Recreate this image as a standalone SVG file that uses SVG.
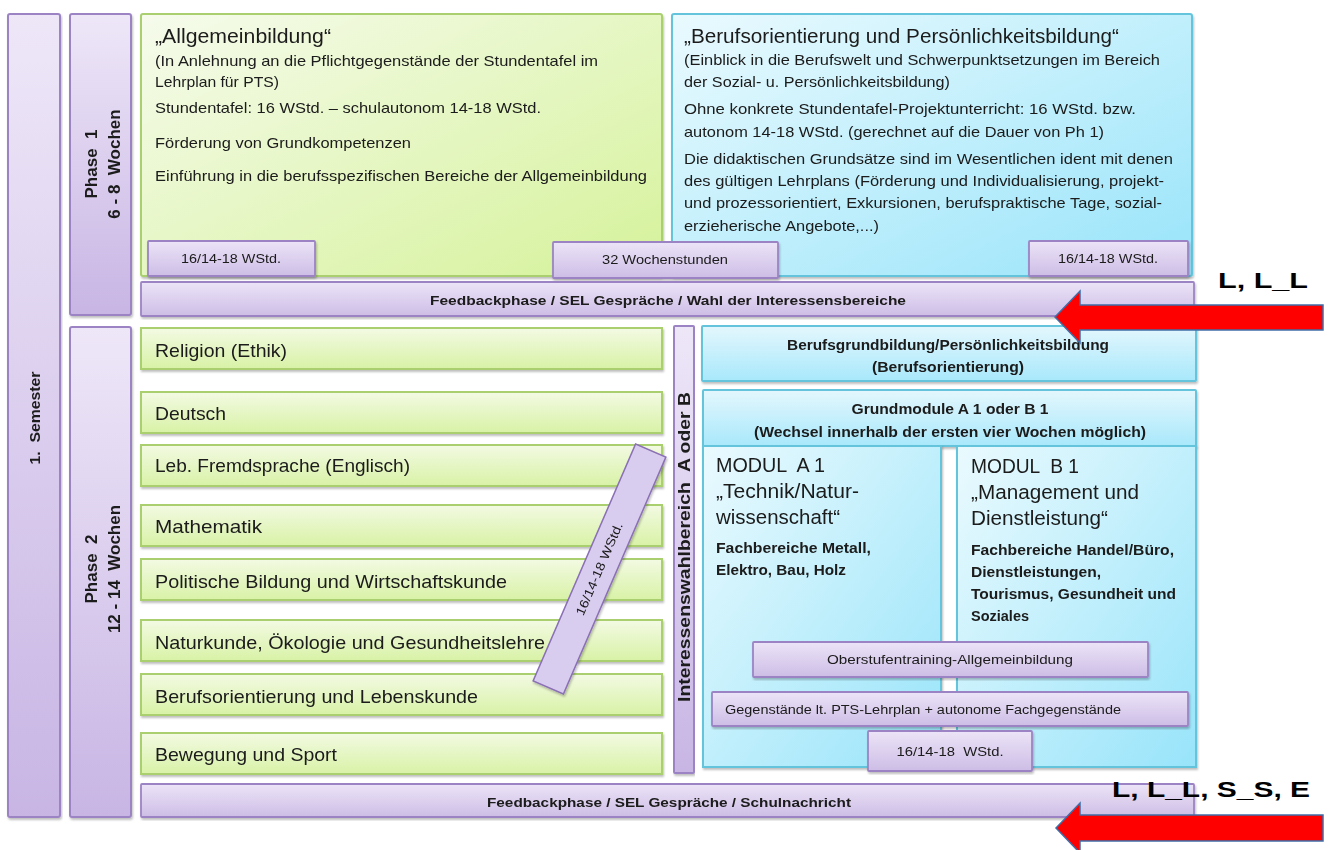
<svg xmlns="http://www.w3.org/2000/svg" width="1332" height="850" viewBox="0 0 1332 850">
<defs>
<linearGradient id="gPur" x1="0" y1="0" x2="0" y2="1"><stop offset="0" stop-color="#eee7f8"/><stop offset="1" stop-color="#c8b5e4"/></linearGradient>
<linearGradient id="gPurS" x1="0" y1="0" x2="0" y2="1"><stop offset="0" stop-color="#ece4f7"/><stop offset="1" stop-color="#cdbde6"/></linearGradient>
<linearGradient id="gGrn" x1="0" y1="0" x2="1" y2="1"><stop offset="0" stop-color="#f6fbec"/><stop offset="1" stop-color="#d5f29a"/></linearGradient>
<linearGradient id="gGrnS" x1="0" y1="0" x2="0" y2="1"><stop offset="0" stop-color="#f3fae3"/><stop offset="1" stop-color="#d8f2a6"/></linearGradient>
<linearGradient id="gBlu" x1="0" y1="0" x2="1" y2="1"><stop offset="0" stop-color="#eafafe"/><stop offset="1" stop-color="#98e4fa"/></linearGradient>
<linearGradient id="gBluS" x1="0" y1="0" x2="0" y2="1"><stop offset="0" stop-color="#e4f7fd"/><stop offset="1" stop-color="#a8e8fb"/></linearGradient>
<filter id="sh" x="-5%" y="-5%" width="110%" height="115%"><feDropShadow dx="1" dy="2" stdDeviation="1.2" flood-color="#000" flood-opacity="0.25"/></filter>
</defs>
<style>
.pur{fill:url(#gPur);stroke:#9c84c4;stroke-width:2}
.purS{fill:url(#gPurS);stroke:#9c84c4;stroke-width:1.8}
.grn{fill:url(#gGrn);stroke:#a9cf6e;stroke-width:2}
.grnS{fill:url(#gGrnS);stroke:#a9cf6e;stroke-width:2}
.blu{fill:url(#gBlu);stroke:#63c4dc;stroke-width:2}
.bluS{fill:url(#gBluS);stroke:#63c4dc;stroke-width:2}
text{font-family:"Liberation Sans",Arial,sans-serif;fill:#1a1a1a}
.h{font-size:20.5px}
.t{font-size:14.5px}
.s{font-size:18.5px}
.b{font-weight:bold}
.sm{font-size:12.5px}
.m{text-anchor:middle}
.lab{font-family:"Liberation Sans",Arial,sans-serif;font-weight:bold;font-size:22px;fill:#000}
.arrow{fill:#ff0000;stroke:#3f6ea8;stroke-width:1.5}
</style>

<g id="semester" filter="url(#sh)">
<rect class="pur" x="8" y="14" width="52" height="803" rx="2"/>
<text class="b" font-size="14" transform="translate(40,418) rotate(-90)" text-anchor="middle" textLength="93" lengthAdjust="spacingAndGlyphs" style="white-space:pre">1.  Semester</text>
</g>

<g id="phase1" filter="url(#sh)">
<rect class="pur" x="70" y="14" width="61" height="301" rx="2"/>
<text class="b" font-size="17" transform="translate(97,164) rotate(-90)" text-anchor="middle" style="white-space:pre">Phase  1</text>
<text class="b" font-size="17" transform="translate(120,164) rotate(-90)" text-anchor="middle" style="white-space:pre">6 - 8  Wochen</text>
</g>

<g id="phase2" filter="url(#sh)">
<rect class="pur" x="70" y="327" width="61" height="490" rx="2"/>
<text class="b" font-size="17" transform="translate(97,569) rotate(-90)" text-anchor="middle" style="white-space:pre">Phase  2</text>
<text class="b" font-size="17" transform="translate(120,569) rotate(-90)" text-anchor="middle" style="white-space:pre">12 - 14  Wochen</text>
</g>

<g id="allgemeinbildung" filter="url(#sh)">
<rect class="grn" x="141" y="14" width="521" height="262" rx="2"/>
<text class="h" x="155" y="43" textLength="176" lengthAdjust="spacingAndGlyphs">„Allgemeinbildung“</text>
<text class="t" x="155" y="66" textLength="443" lengthAdjust="spacingAndGlyphs">(In Anlehnung an die Pflichtgegenstände der Stundentafel im</text>
<text class="t" x="155" y="87" textLength="124" lengthAdjust="spacingAndGlyphs">Lehrplan für PTS)</text>
<text class="t" x="155" y="113" textLength="386" lengthAdjust="spacingAndGlyphs">Stundentafel: 16 WStd. – schulautonom 14-18 WStd.</text>
<text class="t" x="155" y="148" textLength="256" lengthAdjust="spacingAndGlyphs">Förderung von Grundkompetenzen</text>
<text class="t" x="155" y="181" textLength="492" lengthAdjust="spacingAndGlyphs">Einführung in die berufsspezifischen Bereiche der Allgemeinbildung</text>
</g>

<g id="berufsorientierung" filter="url(#sh)">
<rect class="blu" x="672" y="14" width="520" height="262" rx="2"/>
<text class="h" x="684" y="43" textLength="435" lengthAdjust="spacingAndGlyphs">„Berufsorientierung und Persönlichkeitsbildung“</text>
<text class="t" x="684" y="65" textLength="476" lengthAdjust="spacingAndGlyphs">(Einblick in die Berufswelt und Schwerpunktsetzungen im Bereich</text>
<text class="t" x="684" y="87" textLength="266" lengthAdjust="spacingAndGlyphs">der Sozial- u. Persönlichkeitsbildung)</text>
<text class="t" x="684" y="114" textLength="452" lengthAdjust="spacingAndGlyphs">Ohne konkrete Stundentafel-Projektunterricht: 16 WStd. bzw.</text>
<text class="t" x="684" y="137" textLength="420" lengthAdjust="spacingAndGlyphs">autonom 14-18 WStd. (gerechnet auf die Dauer von Ph 1)</text>
<text class="t" x="684" y="164" textLength="489" lengthAdjust="spacingAndGlyphs">Die didaktischen Grundsätze sind im Wesentlichen ident mit denen</text>
<text class="t" x="684" y="186" textLength="480" lengthAdjust="spacingAndGlyphs">des gültigen Lehrplans (Förderung und Individualisierung, projekt-</text>
<text class="t" x="684" y="208" textLength="478" lengthAdjust="spacingAndGlyphs">und prozessorientiert, Exkursionen, berufspraktische Tage, sozial-</text>
<text class="t" x="684" y="231" textLength="195" lengthAdjust="spacingAndGlyphs">erzieherische Angebote,...)</text>
</g>

<g id="wstd-left" filter="url(#sh)">
<rect class="purS" x="148" y="241" width="167" height="35" rx="1"/>
<text class="sm m" x="231" y="263" textLength="100" lengthAdjust="spacingAndGlyphs">16/14-18 WStd.</text>
</g>
<g id="wochenstunden" filter="url(#sh)">
<rect class="purS" x="553" y="242" width="225" height="36" rx="1"/>
<text class="sm m" x="665" y="264" textLength="126" lengthAdjust="spacingAndGlyphs">32 Wochenstunden</text>
</g>
<g id="wstd-right" filter="url(#sh)">
<rect class="purS" x="1029" y="241" width="159" height="35" rx="1"/>
<text class="sm m" x="1108" y="263" textLength="100" lengthAdjust="spacingAndGlyphs">16/14-18 WStd.</text>
</g>

<g id="feedback1" filter="url(#sh)">
<rect class="purS" x="141" y="282" width="1053" height="34" rx="1"/>
<text class="b m" font-size="13.5" x="668" y="305" textLength="476" lengthAdjust="spacingAndGlyphs">Feedbackphase / SEL Gespräche / Wahl der Interessensbereiche</text>
</g>

<g id="subjects" filter="url(#sh)">
<rect class="grnS" x="141" y="328" width="521" height="41"/>
<text class="s" x="155" y="357" textLength="132" lengthAdjust="spacingAndGlyphs">Religion (Ethik)</text>
<rect class="grnS" x="141" y="392" width="521" height="41"/>
<text class="s" x="155" y="420" textLength="71" lengthAdjust="spacingAndGlyphs">Deutsch</text>
<rect class="grnS" x="141" y="445" width="521" height="41"/>
<text class="s" x="155" y="472" textLength="255" lengthAdjust="spacingAndGlyphs">Leb. Fremdsprache (Englisch)</text>
<rect class="grnS" x="141" y="505" width="521" height="41"/>
<text class="s" x="155" y="533" textLength="107" lengthAdjust="spacingAndGlyphs">Mathematik</text>
<rect class="grnS" x="141" y="559" width="521" height="41"/>
<text class="s" x="155" y="588" textLength="352" lengthAdjust="spacingAndGlyphs">Politische Bildung und Wirtschaftskunde</text>
<rect class="grnS" x="141" y="620" width="521" height="41"/>
<text class="s" x="155" y="649" textLength="390" lengthAdjust="spacingAndGlyphs">Naturkunde, Ökologie und Gesundheitslehre</text>
<rect class="grnS" x="141" y="674" width="521" height="41"/>
<text class="s" x="155" y="703" textLength="323" lengthAdjust="spacingAndGlyphs">Berufsorientierung und Lebenskunde</text>
<rect class="grnS" x="141" y="733" width="521" height="41"/>
<text class="s" x="155" y="761" textLength="182" lengthAdjust="spacingAndGlyphs">Bewegung und Sport</text>
</g>

<g id="diagonal-wstd" filter="url(#sh)">
<g transform="translate(599.5,569) rotate(-66.6)">
<rect x="-129" y="-16.5" width="258" height="33" fill="#d9cdef" stroke="#8a6fb5" stroke-width="1.5"/>
<text class="sm m" x="0" y="4" textLength="100" lengthAdjust="spacingAndGlyphs">16/14-18 WStd.</text>
</g>
</g>

<g id="interessenswahlbereich" filter="url(#sh)">
<rect class="pur" x="674" y="326" width="20" height="447" rx="1"/>
<text class="b" font-size="16.5" transform="translate(690,547) rotate(-90)" text-anchor="middle" textLength="310" lengthAdjust="spacingAndGlyphs" style="white-space:pre">Interessenswahlbereich  A oder B</text>
</g>

<g id="berufsgrundbildung" filter="url(#sh)">
<rect class="bluS" x="702" y="326" width="494" height="55" rx="1"/>
<text class="b m" font-size="14" x="948" y="350" textLength="322" lengthAdjust="spacingAndGlyphs">Berufsgrundbildung/Persönlichkeitsbildung</text>
<text class="b m" font-size="14" x="948" y="372" textLength="152" lengthAdjust="spacingAndGlyphs">(Berufsorientierung)</text>
</g>

<g id="grundmodule" filter="url(#sh)">
<rect class="bluS" x="703" y="390" width="493" height="56" rx="1"/>
<text class="b m" font-size="14" x="950" y="414" textLength="197" lengthAdjust="spacingAndGlyphs">Grundmodule A 1 oder B 1</text>
<text class="b m" font-size="14" x="950" y="437" textLength="392" lengthAdjust="spacingAndGlyphs">(Wechsel innerhalb der ersten vier Wochen möglich)</text>
</g>

<g id="modul-a" filter="url(#sh)">
<rect class="blu" x="703" y="446" width="238" height="321"/>
<text class="h" x="716" y="472" textLength="109" lengthAdjust="spacingAndGlyphs" style="white-space:pre">MODUL  A 1</text>
<text class="h" x="716" y="498" textLength="143" lengthAdjust="spacingAndGlyphs">„Technik/Natur-</text>
<text class="h" x="716" y="524" textLength="124" lengthAdjust="spacingAndGlyphs">wissenschaft“</text>
<text class="b" font-size="14" x="716" y="553" textLength="155" lengthAdjust="spacingAndGlyphs">Fachbereiche Metall,</text>
<text class="b" font-size="14" x="716" y="575" textLength="130" lengthAdjust="spacingAndGlyphs">Elektro, Bau, Holz</text>
</g>

<g id="modul-b" filter="url(#sh)">
<rect class="blu" x="957" y="446" width="239" height="321"/>
<text class="h" x="971" y="473" textLength="108" lengthAdjust="spacingAndGlyphs" style="white-space:pre">MODUL  B 1</text>
<text class="h" x="971" y="499" textLength="168" lengthAdjust="spacingAndGlyphs">„Management und</text>
<text class="h" x="971" y="525" textLength="137" lengthAdjust="spacingAndGlyphs">Dienstleistung“</text>
<text class="b" font-size="14" x="971" y="555" textLength="203" lengthAdjust="spacingAndGlyphs">Fachbereiche Handel/Büro,</text>
<text class="b" font-size="14" x="971" y="577" textLength="130" lengthAdjust="spacingAndGlyphs">Dienstleistungen,</text>
<text class="b" font-size="14" x="971" y="599" textLength="205" lengthAdjust="spacingAndGlyphs">Tourismus, Gesundheit und</text>
<text class="b" font-size="14" x="971" y="621" textLength="58" lengthAdjust="spacingAndGlyphs">Soziales</text>
</g>

<g id="oberstufentraining" filter="url(#sh)">
<rect class="purS" x="753" y="642" width="395" height="35" rx="1"/>
<text class="sm m" x="950" y="664" textLength="246" lengthAdjust="spacingAndGlyphs">Oberstufentraining-Allgemeinbildung</text>
</g>

<g id="gegenstaende" filter="url(#sh)">
<rect class="purS" x="712" y="692" width="476" height="34" rx="1"/>
<text class="sm" x="725" y="714" textLength="396" lengthAdjust="spacingAndGlyphs">Gegenstände lt. PTS-Lehrplan + autonome Fachgegenstände</text>
</g>

<g id="wstd-bottom" filter="url(#sh)">
<rect class="purS" x="868" y="731" width="164" height="40" rx="1"/>
<text class="sm m" x="950" y="756" textLength="107" lengthAdjust="spacingAndGlyphs" style="white-space:pre">16/14-18  WStd.</text>
</g>

<g id="feedback2" filter="url(#sh)">
<rect class="purS" x="141" y="784" width="1053" height="33" rx="1"/>
<text class="b m" font-size="13.5" x="669" y="807" textLength="364" lengthAdjust="spacingAndGlyphs">Feedbackphase / SEL Gespräche / Schulnachricht</text>
</g>

<g id="connectors">
<polygon class="arrow" points="1055,317 1080,291 1080,305 1323,305 1323,330 1080,330 1080,343"/>
<polygon class="arrow" points="1056,828 1080,803 1080,815 1323,815 1323,841 1080,841 1080,853"/>
</g>

<g id="label-top">
<text class="lab" x="1218" y="288" textLength="90" lengthAdjust="spacingAndGlyphs">L, L_L</text>
</g>
<g id="label-bottom">
<text class="lab" x="1112" y="797" textLength="198" lengthAdjust="spacingAndGlyphs">L, L_L, S_S, E</text>
</g>
</svg>
